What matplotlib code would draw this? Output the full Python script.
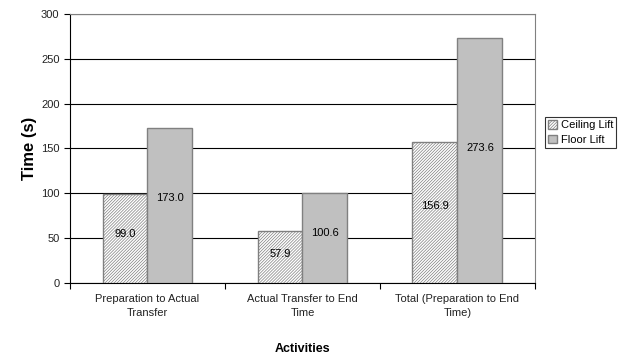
import matplotlib.pyplot as plt
import numpy as np

plt.rcParams['font.family'] = ['Liberation Sans', 'DejaVu Sans']
plt.rcParams['hatch.color'] = '#c0c0c0'
plt.rcParams['hatch.linewidth'] = 0.5

# data
activities = ['Preparation to Actual\nTransfer', 'Actual Transfer to End\nTime',
              'Total (Preparation to End\nTime)']
ceiling_lift = [99.0, 57.9, 156.9]
floor_lift = [173.0, 100.6, 273.6]

fig = plt.figure(figsize=(6.22, 3.58), dpi=100)
ax = fig.add_axes([0.1125, 0.2095, 0.7475, 0.7515])

x = np.arange(len(activities)) + 0.5
w = 0.29
b1 = ax.bar(x - w / 2, ceiling_lift, w, color='white', edgecolor='#808080',
            hatch='/' * 11, linewidth=1, label='Ceiling Lift', zorder=3)
b2 = ax.bar(x + w / 2, floor_lift, w, color='#c0c0c0', edgecolor='#808080',
            linewidth=1, label='Floor Lift', zorder=3)

# value labels, roughly centred in the bars
for xi, v in zip(x - w / 2, ceiling_lift):
    ax.text(xi, v * 0.55, f'{v:.1f}', ha='center', va='center', fontsize=8, zorder=4)
for xi, v in zip(x + w / 2, floor_lift):
    ax.text(xi, v * 0.55, f'{v:.1f}', ha='center', va='center', fontsize=8, zorder=4)

ax.set_xlim(0, 3)
ax.set_ylim(0, 300)
ax.set_yticks(range(0, 301, 50))
ax.yaxis.grid(True, color='black', linewidth=0.8)
ax.set_axisbelow(True)

ax.set_xticks([0, 1, 2, 3])
ax.set_xticklabels([])
ax.set_xticks(x, minor=True)
ax.set_xticklabels(activities, minor=True, fontsize=8, color='#222222', linespacing=1.5)
ax.tick_params(axis='x', which='minor', length=0, pad=8)
ax.tick_params(axis='x', which='major', length=4, direction='out', color='black')
ax.tick_params(axis='y', length=4, direction='out', labelsize=8, labelcolor='#222222')

ax.spines['top'].set_color('#808080')
ax.spines['right'].set_color('#808080')
ax.spines['left'].set_color('black')
ax.spines['bottom'].set_color('black')

ax.set_ylabel('Time (s)', fontsize=12, fontweight='bold', labelpad=3)
ax.set_xlabel('Activities', fontsize=9, fontweight='bold', labelpad=18)

leg = ax.legend(loc='center left', bbox_to_anchor=(1.01, 0.56), fontsize=8,
                frameon=True, fancybox=False, edgecolor='black',
                handlelength=0.8, handleheight=0.8, handletextpad=0.3,
                borderpad=0.3, labelspacing=0.4)
leg.get_frame().set_linewidth(0.8)

fig.savefig('out.png', dpi=100)
